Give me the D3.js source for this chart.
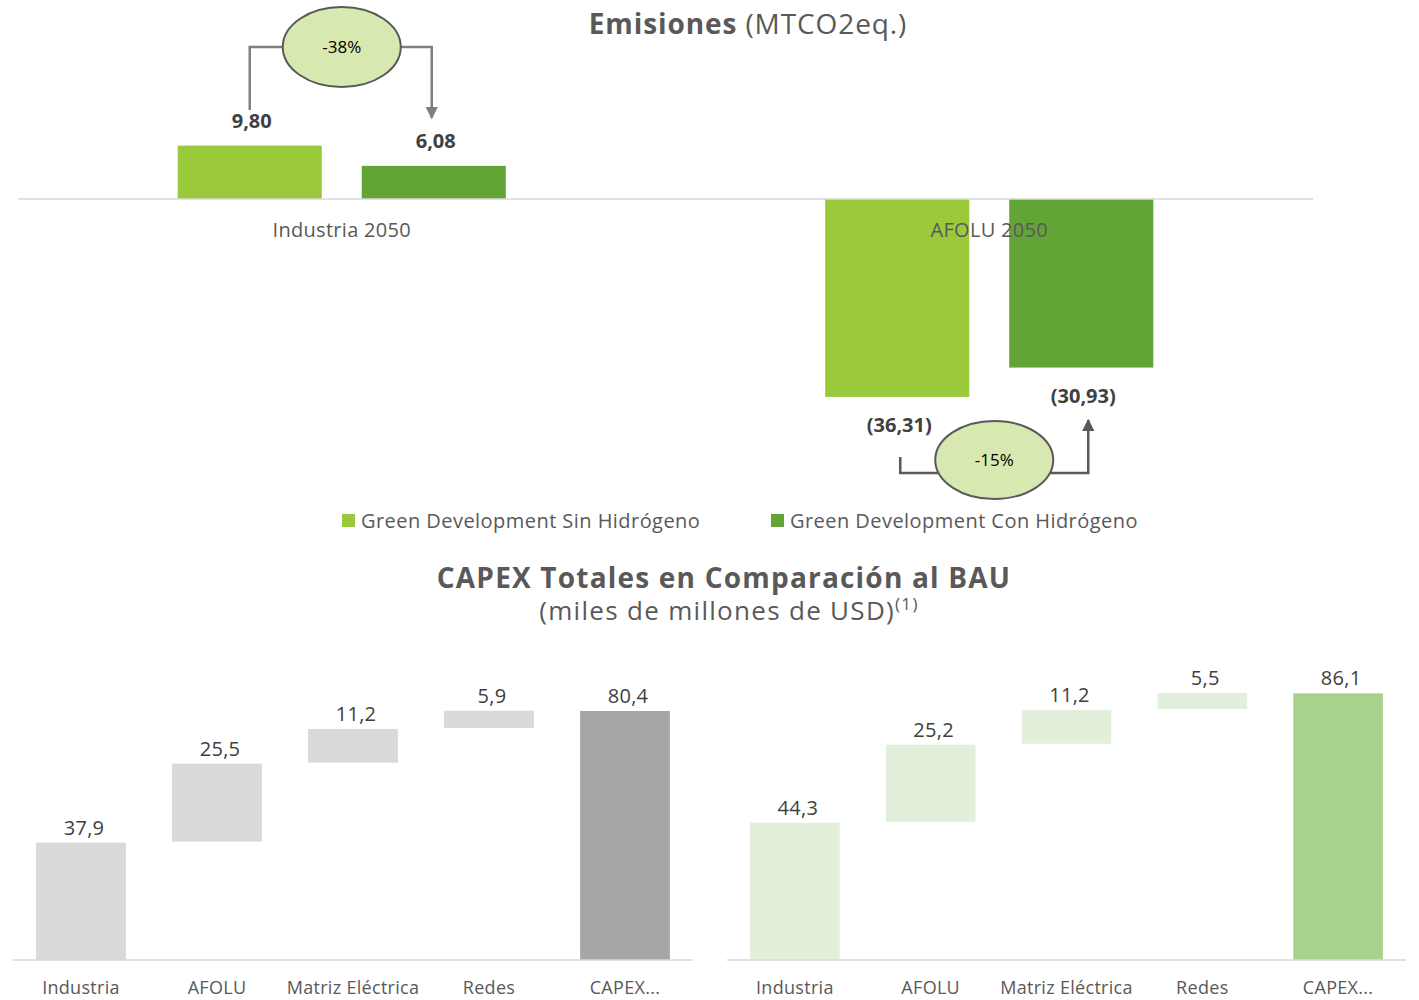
<!DOCTYPE html>
<html><head><meta charset="utf-8">
<script src="https://cdn.jsdelivr.net/npm/d3@7"></script>
<style>
html,body{margin:0;padding:0;background:#fff;}
svg{display:block;font-family:"Open Sans",sans-serif;}
</style></head>
<body><svg id="c" width="1419" height="1000"></svg>
<script>
// ---------- DATA ----------
const emisCategories = ["Industria 2050", "AFOLU 2050"];
const emisSeries = ["Green Development Sin Hidrógeno", "Green Development Con Hidrógeno"];
const emisSinH = [9.80, -36.31];
const emisConH = [6.08, -30.93];

const capexCategories = ["Industria", "AFOLU", "Matriz Eléctrica", "Redes", "CAPEX..."];
const capexBAUleft = [37.9, 25.5, 11.2, 5.9, 80.4];
const capexRight = [44.3, 25.2, 11.2, 5.5, 86.1];

const titleTop = ["Emisiones", " (MTCO2eq.)"];
const titleBottom = ["CAPEX Totales en Comparación al BAU", "(miles de millones de USD)", "(1)"];

// ---------- STYLE ----------
const cLight = "#9aca3c", cDark = "#62a536";
const txt = "#595959", txtDark = "#404040";
const fmt2 = v => d3.format(".2f")(Math.abs(v)).replace(".", ",");
const fmt1 = v => d3.format(".1f")(v).replace(".", ",");

const svg = d3.select("#c");

// ---------- TOP CHART ----------
const x0 = d3.scaleBand().domain(emisCategories).range([18, 1313]).padding(0);
const x1 = d3.scaleBand().domain(emisSeries).range([0, x0.bandwidth()]).paddingInner(0.217).paddingOuter(0.868);
const yT = d3.scaleLinear().domain([-40, 15]).range([199 + 40 * 5.45, 199 - 15 * 5.45]);
const colors = d3.scaleOrdinal().domain(emisSeries).range([cLight, cDark]);

const emisRows = emisCategories.map((c, i) => ({cat: c, vals: [
  {s: emisSeries[0], v: emisSinH[i]}, {s: emisSeries[1], v: emisConH[i]}]}));

const gT = svg.append("g");
const grp = gT.selectAll("g.grp").data(emisRows).join("g")
  .attr("transform", d => `translate(${x0(d.cat)},0)`);
grp.selectAll("rect").data(d => d.vals).join("rect")
  .attr("x", d => x1(d.s)).attr("width", x1.bandwidth())
  .attr("y", d => yT(Math.max(0, d.v)))
  .attr("height", d => Math.abs(yT(d.v) - yT(0)))
  .attr("fill", d => colors(d.s));

// baseline
gT.append("line").attr("x1", 18).attr("x2", 1313).attr("y1", yT(0)).attr("y2", yT(0))
  .attr("stroke", "#d9d9d9").attr("stroke-width", 1.5);

// category labels
gT.selectAll("text.cat").data(emisCategories).join("text")
  .attr("x", d => x0(d) + x0.bandwidth() / 2).attr("y", 237)
  .attr("text-anchor", "middle").attr("font-size", 20).attr("letter-spacing", 0.3)
  .attr("fill", txt).text(d => d);

// value labels
grp.selectAll("text.val").data(d => d.vals).join("text")
  .attr("x", d => x1(d.s) + x1.bandwidth() / 2 + 2)
  .attr("y", d => d.v >= 0 ? yT(d.v) - 18 : yT(d.v) + 35)
  .attr("text-anchor", "middle").attr("font-size", 20).attr("font-weight", 700)
  .attr("fill", txtDark)
  .text(d => d.v >= 0 ? fmt2(d.v) : "(" + fmt2(d.v) + ")");

// title
const tt = svg.append("text").attr("x", 748).attr("y", 34).attr("text-anchor", "middle")
  .attr("font-size", 28).attr("letter-spacing", 0.9).attr("fill", txt);
tt.append("tspan").attr("font-weight", 700).text(titleTop[0]);
tt.append("tspan").text(titleTop[1]);

// annotations
const defs = svg.append("defs");
defs.append("marker").attr("id", "arr").attr("viewBox", "0 0 10 10").attr("refX", 9).attr("refY", 5)
  .attr("markerWidth", 5).attr("markerHeight", 5).attr("orient", "auto-start-reverse")
  .append("path").attr("d", "M0,0L10,5L0,10Z").attr("fill", "#7f7f7f");
defs.append("marker").attr("id", "arr2").attr("viewBox", "0 0 10 10").attr("refX", 9).attr("refY", 5)
  .attr("markerWidth", 5).attr("markerHeight", 5).attr("orient", "auto-start-reverse")
  .append("path").attr("d", "M0,0L10,5L0,10Z").attr("fill", "#595959");

function pct(a, b) { return d3.format(".0f")((b - a) / Math.abs(a) * 100).replace("\u2212", "-") + "%"; }

// -38%
{
  const c = emisCategories[0];
  const xa = x0(c) + x1(emisSeries[0]) + x1.bandwidth() / 2;
  const xb = x0(c) + x1(emisSeries[1]) + x1.bandwidth() / 2 - 2;
  const cx = x0(c) + x0.bandwidth() / 2, cy = 47, rx = 59, ry = 40;
  gT.append("path").attr("d", `M${xa},110V${cy}H${cx - rx}`).attr("fill", "none")
    .attr("stroke", "#7f7f7f").attr("stroke-width", 2.5);
  gT.append("path").attr("d", `M${cx + rx},${cy}H${xb}V118`).attr("fill", "none")
    .attr("stroke", "#7f7f7f").attr("stroke-width", 2.5).attr("marker-end", "url(#arr)");
  gT.append("ellipse").attr("cx", cx).attr("cy", cy).attr("rx", rx).attr("ry", ry)
    .attr("fill", "#d7e9b1").attr("stroke", "#595959").attr("stroke-width", 2);
  gT.append("text").attr("x", cx).attr("y", cy + 6).attr("text-anchor", "middle")
    .attr("font-size", 17).attr("fill", "#000").text(pct(emisSinH[0], emisConH[0]));
}
// -15%
{
  const c = emisCategories[1];
  const xa = x0(c) + x1(emisSeries[0]) + x1.bandwidth() / 2 + 3;
  const xb = x0(c) + x1(emisSeries[1]) + x1.bandwidth() / 2 + 7;
  const cx = x0(c) + x0.bandwidth() / 2 + 5, cy = 460, rx = 59, ry = 39;
  gT.append("path").attr("d", `M${xa},457V473H${cx - rx + 3}`).attr("fill", "none")
    .attr("stroke", "#595959").attr("stroke-width", 2.5);
  gT.append("path").attr("d", `M${cx + rx - 3},473H${xb}V420`).attr("fill", "none")
    .attr("stroke", "#595959").attr("stroke-width", 2.5).attr("marker-end", "url(#arr2)");
  gT.append("ellipse").attr("cx", cx).attr("cy", cy).attr("rx", rx).attr("ry", ry)
    .attr("fill", "#d7e9b1").attr("stroke", "#595959").attr("stroke-width", 2);
  gT.append("text").attr("x", cx).attr("y", cy + 6).attr("text-anchor", "middle")
    .attr("font-size", 17).attr("fill", "#000")
    .text(pct(Math.abs(emisSinH[1]), Math.abs(emisConH[1])));
}

// legend
const legX = [342, 771];
const leg = svg.selectAll("g.leg").data(emisSeries).join("g")
  .attr("transform", (d, i) => `translate(${legX[i]},514)`);
leg.append("rect").attr("width", 13).attr("height", 13).attr("fill", d => colors(d));
leg.append("text").attr("x", 19).attr("y", 14).attr("font-size", 20).attr("letter-spacing", 0.45)
  .attr("fill", txt).text(d => d);

// bottom title
svg.append("text").attr("x", 724).attr("y", 588).attr("text-anchor", "middle")
  .attr("font-size", 28).attr("letter-spacing", 1.2).attr("font-weight", 700).attr("fill", txt).text(titleBottom[0]);
const st = svg.append("text").attr("x", 729).attr("y", 620).attr("text-anchor", "middle")
  .attr("font-size", 26).attr("letter-spacing", 1.3).attr("fill", txt);
st.append("tspan").text(titleBottom[1]);
st.append("tspan").attr("font-size", 17).attr("dy", -10).text(titleBottom[2]);

// ---------- WATERFALLS ----------
const yW = d3.scaleLinear().domain([0, 90]).range([960, 960 - 90 * 3.097]);

function waterfall(values, range, stepColor, totalColor) {
  const xs = d3.scaleBand().domain(capexCategories).range(range).paddingInner(0.34).paddingOuter(0.17);
  let cum = 0;
  const rows = values.map((v, i) => {
    const last = i === values.length - 1;
    const r = last ? {c: capexCategories[i], y0: 0, y1: v, v, total: true}
                   : {c: capexCategories[i], y0: cum, y1: cum + v, v, total: false};
    cum += v;
    return r;
  });
  const g = svg.append("g");
  g.selectAll("rect").data(rows).join("rect")
    .attr("x", d => xs(d.c)).attr("width", xs.bandwidth())
    .attr("y", d => yW(d.y1)).attr("height", d => yW(d.y0) - yW(d.y1) - (d.total || d.y0 === 0 ? 0 : 1))
    .attr("fill", d => d.total ? totalColor : stepColor);
  g.selectAll("text.v").data(rows).join("text")
    .attr("x", d => xs(d.c) + xs.bandwidth() / 2 + 3).attr("y", d => yW(d.y1) - 8)
    .attr("text-anchor", "middle").attr("font-size", 20).attr("letter-spacing", 0.3)
    .attr("fill", txtDark).text(d => fmt1(d.v));
  const ax = g.append("g").attr("transform", "translate(0,960)")
    .call(d3.axisBottom(xs).tickSize(0).tickPadding(21));
  ax.select(".domain").attr("stroke", "#d9d9d9").attr("stroke-width", 1.5)
    .attr("d", `M${range[0]},0H${range[1]}`);
  ax.selectAll("text").attr("font-size", 18).attr("letter-spacing", 0.3)
    .attr("fill", txt).attr("font-family", "Open Sans");
}
waterfall(capexBAUleft, [13, 693], "#d9d9d9", "#a6a6a6");
waterfall(capexRight, [727, 1406], "#e2efda", "#a9d18e");
</script></body></html>
